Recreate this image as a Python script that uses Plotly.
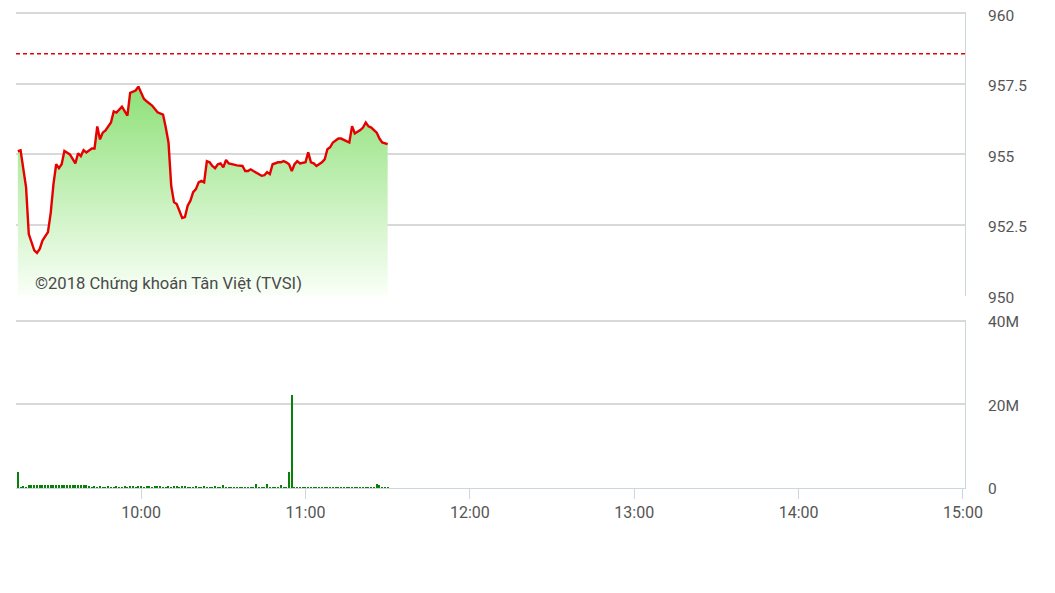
import plotly.graph_objects as go
import pandas as pd

DAY = "2018-10-01"

# ---- Price (VN-Index intraday) ----
price_times = ["09:15","09:16","09:18","09:19","09:21","09:22","09:23","09:24","09:26","09:27",
               "09:28","09:29","09:30","09:31","09:32","09:33","09:34","09:36","09:37","09:38",
               "09:39","09:40","09:42","09:43","09:44","09:45","09:46","09:47","09:48","09:49",
               "09:50","09:51","09:53","09:55","09:56","09:58","09:59","10:00","10:01","10:02",
               "10:04","10:06","10:08","10:09","10:10","10:11","10:12","10:13","10:14","10:15",
               "10:16","10:17","10:18","10:19","10:20","10:21","10:22","10:23","10:24","10:25",
               "10:26","10:27","10:28","10:29","10:30","10:31","10:32","10:33","10:35","10:37",
               "10:38","10:39","10:40","10:41","10:43","10:44","10:45","10:46","10:47","10:48",
               "10:50","10:51","10:52","10:53","10:54","10:55","10:56","10:57","10:58","11:00",
               "11:01","11:02","11:03","11:04","11:06","11:07","11:08","11:09","11:10","11:11",
               "11:12","11:13","11:15","11:16","11:17","11:18","11:20","11:21","11:22","11:23",
               "11:24","11:26","11:27","11:28","11:30"]
price_values = [955.11, 955.14, 953.84, 952.18, 951.60, 951.51, 951.65, 951.95, 952.25, 952.92,
                953.94, 954.65, 954.51, 954.65, 955.12, 955.07, 955.00, 954.68, 955.04, 954.94,
                955.15, 955.07, 955.21, 955.21, 955.99, 955.53, 955.77, 955.85, 955.99, 956.13,
                956.52, 956.48, 956.69, 956.37, 957.18, 957.26, 957.40, 957.18, 956.97, 956.88,
                956.73, 956.49, 956.41, 955.95, 955.42, 953.88, 953.31, 953.24, 952.96, 952.75,
                952.78, 953.18, 953.36, 953.66, 953.77, 954.01, 954.06, 954.01, 954.76, 954.72,
                954.59, 954.51, 954.65, 954.68, 954.54, 954.80, 954.68, 954.65, 954.61, 954.59,
                954.41, 954.41, 954.47, 954.41, 954.30, 954.24, 954.26, 954.37, 954.30, 954.65,
                954.72, 954.72, 954.76, 954.72, 954.65, 954.41, 954.65, 954.76, 954.68, 954.72,
                955.07, 954.72, 954.68, 954.59, 954.72, 954.82, 955.18, 955.25, 955.42, 955.50,
                955.56, 955.56, 955.47, 955.42, 956.00, 955.74, 955.86, 955.95, 956.13, 955.99,
                955.95, 955.77, 955.56, 955.42, 955.36]
reference_price = 958.56

# ---- Volume (millions of shares per minute, from 09:15) ----
volume_start = "09:15"
volume_millions = [4.0,
                   0.3, 0.6, 0.3, 0.8,
                   0.8, 0.9, 0.8, 0.8, 0.9, 0.8, 0.8, 0.7, 0.8, 0.8, 0.9, 0.8, 0.8, 0.8, 0.7, 0.8,
                   0.9, 0.8, 0.8, 0.7, 0.8,
                   0.5, 0.3, 0.6, 0.3, 0.5,
                   0.4, 0.3, 0.5, 0.4, 0.3, 0.6, 0.4, 0.3, 0.5, 0.4, 0.6, 0.5, 0.4, 0.6, 0.5, 0.3,
                   0.6, 0.5, 0.4, 0.5, 0.6, 0.5, 0.4, 0.3, 0.5, 0.4, 0.5, 0.6, 0.4, 0.5, 0.5, 0.4,
                   0.3, 0.4, 0.5, 0.4,
                   0.4, 0.5, 0.4, 0.3, 0.4, 0.5, 0.4, 0.4, 0.7, 0.4, 0.3, 0.4, 0.3, 0.4, 0.3, 0.4,
                   0.3, 0.4, 0.3, 0.4, 1.0, 0.4, 0.3, 0.4, 1.0, 0.4, 0.3, 0.3, 0.4, 0.8, 0.3, 0.4,
                   4.0, 22.2,
                   0.2, 0.2, 0.3, 0.2, 0.2, 0.2, 0.3, 0.2, 0.2, 0.2, 0.2, 0.3, 0.2, 0.2, 0.2,
                   0.2, 0.2, 0.3, 0.2, 0.2, 0.2, 0.2, 0.3, 0.2, 0.2, 0.2, 0.2, 0.3, 0.2, 0.2,
                   1.0, 0.7, 0.3, 0.2, 0.3]

# ---- Axis ticks ----
price_ticks = [950, 952.5, 955, 957.5, 960]
price_tick_text = ["950", "952.5", "955", "957.5", "960"]
volume_ticks = [0, 20e6, 40e6]
volume_tick_text = ["0", "20M", "40M"]
hour_labels = ["10:00", "11:00", "12:00", "13:00", "14:00", "15:00"]
copyright_text = "©2018 Chứng khoán Tân Việt (TVSI)"

px_times = pd.to_datetime([f"{DAY} {t}" for t in price_times])
vol_times = pd.date_range(f"{DAY} {volume_start}", periods=len(volume_millions), freq="1min")
vol_values = [v * 1e6 for v in volume_millions]
hour_vals = pd.to_datetime([f"{DAY} {h}" for h in hour_labels])

GRID = "#d9d9d9"
BORDER = "#ccd6dd"
TXT = "#555555"
FONT = "Roboto"

fig = go.Figure()

fig.add_trace(go.Scatter(
    x=px_times, y=price_values, mode="lines",
    line=dict(color="#e60000", width=2.4),
    fill="tozeroy",
    fillgradient=dict(type="vertical", start=950, stop=957.5,
                      colorscale=[[0, "rgb(250,255,248)"], [1, "rgb(140,224,118)"]]),
    xaxis="x", yaxis="y", showlegend=False, hoverinfo="skip",
))

fig.add_trace(go.Bar(
    x=vol_times, y=vol_values, width=25000,
    marker=dict(color="#0a7f0a", line=dict(width=0)),
    xaxis="x2", yaxis="y2", showlegend=False, hoverinfo="skip",
))

x_range = [f"{DAY} 09:14:20", f"{DAY} 15:00:44"]

# the page body adds an 8px offset; the figure is sized to fit the window
fig.update_layout(
    width=1047, height=585,
    margin=dict(l=8, r=90, t=4, b=105, autoexpand=False),
    paper_bgcolor="white", plot_bgcolor="white",
    font=dict(family=FONT, size=15, color=TXT),
    bargap=0,
    xaxis=dict(domain=[0, 1], range=x_range, type="date", anchor="y", automargin=False,
               showticklabels=False, showgrid=False, zeroline=False, showline=False, ticks=""),
    xaxis2=dict(domain=[0, 1], range=x_range, type="date", anchor="y2", matches="x",
                automargin=False, ticklabeloverflow="allow",
                tickvals=hour_vals, ticktext=hour_labels, ticks="outside", ticklen=10,
                tickcolor=BORDER, tickwidth=1, showgrid=False, zeroline=False,
                showline=True, linecolor=BORDER, linewidth=1,
                tickfont=dict(family=FONT, size=16, color=TXT)),
    yaxis=dict(domain=[0.4042, 1], range=[950, 960.04], side="right", anchor="x", automargin=False,
               ticklabeloverflow="allow", ticklabelshift=2,
               tickvals=price_ticks, ticktext=price_tick_text,
               showgrid=True, gridcolor=GRID, gridwidth=1.5, zeroline=False,
               showline=True, linecolor=BORDER, linewidth=1, ticks="",
               ticklabelstandoff=19, tickfont=dict(family=FONT, size=15.5, color=TXT)),
    yaxis2=dict(domain=[0, 0.3535], range=[0, 40.25e6], side="right", anchor="x2", automargin=False,
                ticklabeloverflow="allow", ticklabelshift=1,
                tickvals=volume_ticks, ticktext=volume_tick_text,
                showgrid=True, gridcolor=GRID, gridwidth=1.5, zeroline=False,
                showline=True, linecolor=BORDER, linewidth=1, ticks="",
                ticklabelstandoff=19, tickfont=dict(family=FONT, size=15.5, color=TXT)),
)

fig.add_shape(type="line", xref="paper", x0=0, x1=1, yref="y",
              y0=reference_price, y1=reference_price,
              line=dict(color="#e8000b", width=1.4, dash="4px,3px"))

fig.add_annotation(text=copyright_text, xref="paper", yref="y",
                   x=0.0179, y=950.42, xanchor="left", yanchor="middle",
                   showarrow=False, font=dict(family=FONT, size=16.6, color="#4a4a4a"))

fig.write_html("out.html")
